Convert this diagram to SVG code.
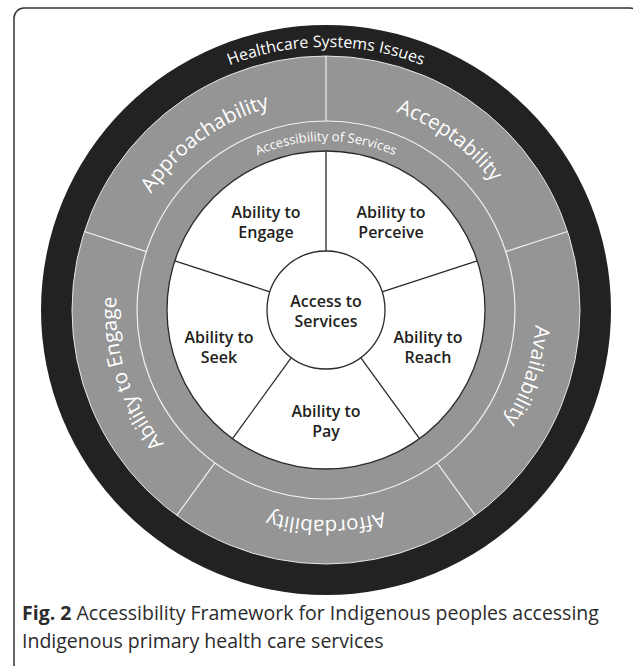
<svg xmlns="http://www.w3.org/2000/svg" xmlns:xlink="http://www.w3.org/1999/xlink" width="633" height="666" viewBox="0 0 633 666">
<style>
.ring-label{font-family:"Open Sans","Liberation Sans",sans-serif;font-size:20.5px;fill:#ffffff;}
.sys-label{font-family:"Open Sans","Liberation Sans",sans-serif;font-size:16px;fill:#ffffff;}
.acc-label{font-family:"Open Sans","Liberation Sans",sans-serif;font-size:13px;fill:#ffffff;}
.inner-label{font-family:"Open Sans","Liberation Sans",sans-serif;font-size:16px;font-weight:600;fill:#231f20;text-anchor:middle;}
.cap{font-family:"Open Sans","Liberation Sans",sans-serif;font-size:19.5px;fill:#2b2b2b;}
.wline{stroke:#f2f2f2;stroke-width:1.2;fill:none;}
.dline{stroke:#2a2a2a;stroke-width:1.3;fill:none;}
</style>
<defs>
<path id="p263" d="M 63 310 A 263 263 0 0 1 589 310"/>
<path id="p210" d="M 116 310 A 210 210 0 0 1 536 310"/>
<path id="p169" d="M 157 310 A 169 169 0 0 1 495 310"/>
</defs>
<rect x="0" y="0" width="633" height="666" fill="#ffffff"/>
<rect id="frame" x="14" y="8" width="626" height="672" rx="10" ry="10" fill="none" stroke="#333333" stroke-width="1.5"/>

<g id="healthcare-systems-issues">
<circle cx="326" cy="310" r="285" fill="#222222"/>
<text class="sys-label"><textPath xlink:href="#p263" href="#p263" startOffset="50%" text-anchor="middle">Healthcare Systems Issues</textPath></text>
</g>

<g id="outer-ring">
<circle cx="326" cy="310" r="254" fill="#959595" stroke="#e6e6e6" stroke-width="1"/>
<circle class="wline" cx="326" cy="310" r="189"/>
</g>

<g id="approachability">
<text class="ring-label" transform="rotate(-36 326 310)"><textPath xlink:href="#p210" href="#p210" startOffset="50%" text-anchor="middle">Approachability</textPath></text>
</g>
<g id="acceptability">
<text class="ring-label" transform="rotate(36 326 310)"><textPath xlink:href="#p210" href="#p210" startOffset="50%" text-anchor="middle">Acceptability</textPath></text>
</g>
<g id="availability">
<text class="ring-label" transform="rotate(108 326 310)"><textPath xlink:href="#p210" href="#p210" startOffset="50%" text-anchor="middle">Availability</textPath></text>
</g>
<g id="affordability">
<text class="ring-label" transform="rotate(180 326 310)"><textPath xlink:href="#p210" href="#p210" startOffset="50%" text-anchor="middle">Affordability</textPath></text>
</g>
<g id="ability-to-engage-outer">
<text class="ring-label" transform="rotate(252 326 310)"><textPath xlink:href="#p210" href="#p210" startOffset="50%" text-anchor="middle">Ability to Engage</textPath></text>
</g>

<g id="accessibility-of-services">
<text class="acc-label"><textPath xlink:href="#p169" href="#p169" startOffset="50%" text-anchor="middle">Accessibility of Services</textPath></text>
</g>

<g id="inner-disc">
<circle cx="326" cy="310" r="159" fill="#ffffff" stroke="#2a2a2a" stroke-width="1.3"/>
</g>

<g id="connectors">
<line class="wline" x1="326" y1="121" x2="326" y2="56"/>
<line class="wline" x1="505.8" y1="251.6" x2="567.6" y2="231.5"/>
<line class="wline" x1="437.1" y1="462.9" x2="475.3" y2="515.5"/>
<line class="wline" x1="214.9" y1="462.9" x2="176.7" y2="515.5"/>
<line class="wline" x1="146.2" y1="251.6" x2="84.4" y2="231.5"/>
<line class="dline" x1="326" y1="251" x2="326" y2="151"/>
<line class="dline" x1="382.1" y1="291.8" x2="477.2" y2="260.9"/>
<line class="dline" x1="360.7" y1="357.7" x2="419.5" y2="438.6"/>
<line class="dline" x1="291.3" y1="357.7" x2="232.5" y2="438.6"/>
<line class="dline" x1="269.9" y1="291.8" x2="174.8" y2="260.9"/>
</g>

<g id="access-to-services">
<circle cx="326" cy="310" r="59" fill="#ffffff" stroke="#2a2a2a" stroke-width="1.3"/>
<text class="inner-label" x="326" y="307">Access to</text>
<text class="inner-label" x="326" y="327">Services</text>
</g>
<g id="ability-to-engage">
<text class="inner-label" x="266" y="218">Ability to</text>
<text class="inner-label" x="266" y="238">Engage</text>
</g>
<g id="ability-to-perceive">
<text class="inner-label" x="391" y="218">Ability to</text>
<text class="inner-label" x="391" y="238">Perceive</text>
</g>
<g id="ability-to-seek">
<text class="inner-label" x="219" y="343">Ability to</text>
<text class="inner-label" x="219" y="363">Seek</text>
</g>
<g id="ability-to-reach">
<text class="inner-label" x="428" y="343">Ability to</text>
<text class="inner-label" x="428" y="363">Reach</text>
</g>
<g id="ability-to-pay">
<text class="inner-label" x="326" y="417">Ability to</text>
<text class="inner-label" x="326" y="437">Pay</text>
</g>

<g id="caption">
<text class="cap" x="22" y="620"><tspan font-weight="700">Fig. 2</tspan> Accessibility Framework for Indigenous peoples accessing</text>
<text class="cap" x="22" y="648">Indigenous primary health care services</text>
</g>
</svg>
